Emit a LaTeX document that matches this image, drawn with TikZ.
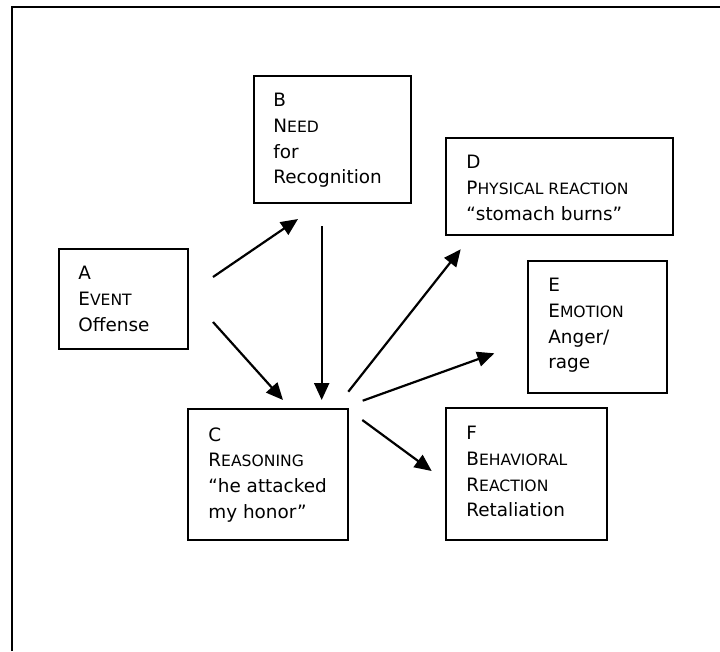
\documentclass[tikz,border=0pt]{standalone}
\usepackage{fontspec}
\setmainfont{DejaVu Sans}
\usetikzlibrary{arrows.meta,calc}
\newcommand\smc[2]{#1{\fontsize{15.6}{25.7}\selectfont #2}}
\tikzset{
  box/.style={draw, line width=1.6pt, inner sep=0pt},
  txt/.style={anchor=north west, inner sep=0pt, align=left,
    font=\fontsize{18.4}{25.7}\selectfont},
  arr/.style={line width=2.2pt, -{Triangle[length=17pt,width=15pt]}},
  frame/.style={line width=2.2pt}
}
\begin{document}
\begin{tikzpicture}[x=1pt,y=-1pt]
\useasboundingbox (0,0) rectangle (720,651);
\draw[frame] (12,651) -- (12,7) -- (720,7);

\node[box, minimum width=129pt, minimum height=100pt] (A) at (123.5,299) {};
\node[box, minimum width=157pt, minimum height=127pt] (B) at (332.5,139.5) {};
\node[box, minimum width=160pt, minimum height=131pt] (C) at (268,474.5) {};
\node[box, minimum width=227pt, minimum height=97pt] (D) at (559.5,186.5) {};
\node[box, minimum width=139pt, minimum height=132pt] (E) at (597.5,327) {};
\node[box, minimum width=161pt, minimum height=132pt] (F) at (526.5,474) {};

\node[txt] (At) at ($(A.north west)+(20,18)$) {A\\\smc{E}{VENT}\\Offense};
\node[txt] (Bt) at ($(B.north west)+(20,18)$) {B\\\smc{N}{EED}\\for\\Recognition};
\node[txt] (Ct) at ($(C.north west)+(21,19)$) {C\\\smc{R}{EASONING}\\“he attacked\\my honor”};
\node[txt] (Dt) at ($(D.north west)+(21,18)$) {D\\\smc{P}{HYSICAL REACTION}\\“stomach burns”};
\node[txt] (Et) at ($(E.north west)+(21,18)$) {E\\\smc{E}{MOTION}\\Anger/\\rage};
\node[txt] (Ft) at ($(F.north west)+(21,19)$) {F\\\smc{B}{EHAVIORAL}\\\smc{R}{EACTION}\\Retaliation};

\coordinate (ab1) at (213,277);  \coordinate (ab2) at (298,219);
\coordinate (ac1) at (213,322);  \coordinate (ac2) at (283,400);
\coordinate (bc1) at (321.7,226); \coordinate (bc2) at (321.7,400);
\coordinate (cd1) at (348.3,391.7); \coordinate (cd2) at (460.7,249.3);
\coordinate (ce1) at (362.7,400.7); \coordinate (ce2) at (494.3,353.3);
\coordinate (cf1) at (362.3,420); \coordinate (cf2) at (431.7,471);

\draw[arr] (ab1) -- (ab2);
\draw[arr] (ac1) -- (ac2);
\draw[arr] (bc1) -- (bc2);
\draw[arr] (cd1) -- (cd2);
\draw[arr] (ce1) -- (ce2);
\draw[arr] (cf1) -- (cf2);
\end{tikzpicture}
\end{document}
